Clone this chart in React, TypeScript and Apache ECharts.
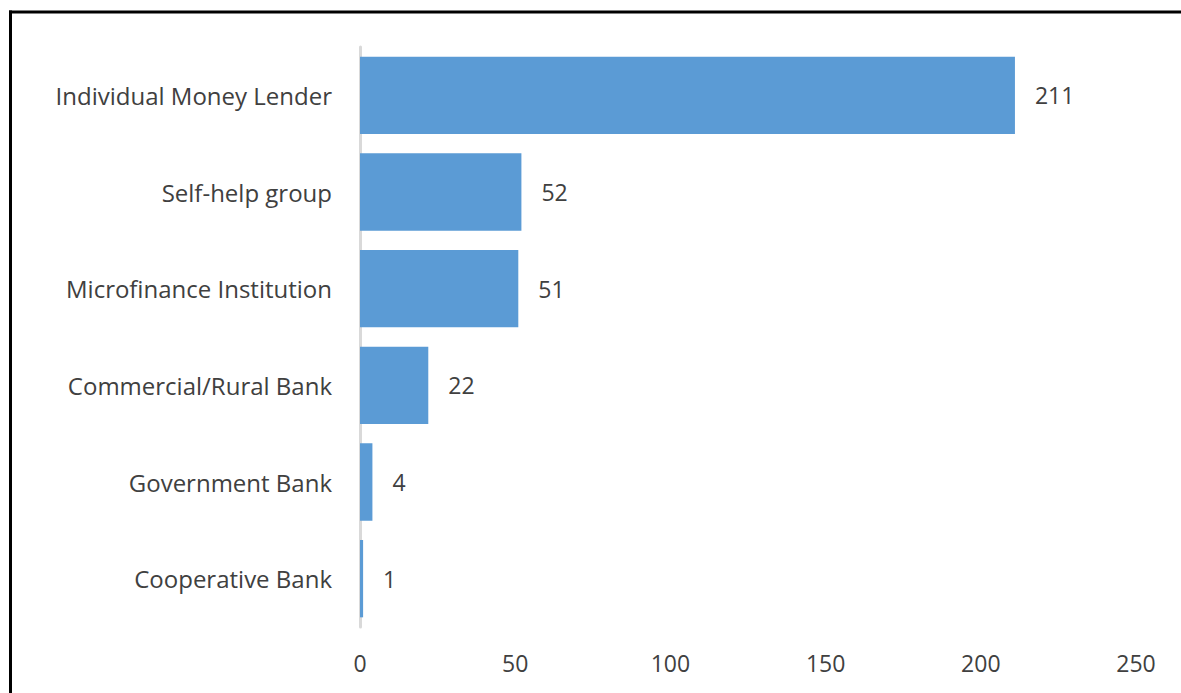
import React, { useEffect, useRef } from "react";
import * as echarts from "echarts";

const categories = [
  "Individual Money Lender",
  "Self-help group",
  "Microfinance Institution",
  "Commercial/Rural Bank",
  "Government Bank",
  "Cooperative Bank",
];
const values = [211, 52, 51, 22, 4, 1];
const xTicks = [0, 50, 100, 150, 200, 250];

export default function App() {
  const ref = useRef<HTMLDivElement>(null);
  useEffect(() => {
    if (!ref.current) return;
    const chart = echarts.init(ref.current, null, { renderer: "svg" });
    const font = "'Open Sans', 'Noto Sans', sans-serif";
    chart.setOption({
      animation: false,
      backgroundColor: "#ffffff",
      textStyle: { fontFamily: font },
      grid: { left: 360, right: 45, top: 47, bottom: 66, containLabel: false },
      xAxis: {
        type: "value",
        min: xTicks[0],
        max: xTicks[xTicks.length - 1],
        interval: 50,
        axisLine: { show: false },
        axisTick: { show: false },
        splitLine: { show: false },
        axisLabel: { color: "#404040", fontSize: 23, margin: 24, fontFamily: font },
      },
      yAxis: {
        type: "category",
        data: categories,
        inverse: true,
        axisLine: { show: true, lineStyle: { color: "#d9d9d9", width: 3 } },
        axisTick: { show: false },
        axisLabel: { color: "#404040", fontSize: 24, margin: 28, fontFamily: font },
      },
      series: [
        {
          type: "bar",
          data: values,
          barCategoryGap: "20%",
          itemStyle: { color: "#5b9bd5" },
          label: {
            show: true,
            position: "right",
            distance: 20,
            color: "#404040",
            fontSize: 23,
            fontFamily: font,
          },
        },
      ],
      graphic: [
        {
          type: "line",
          shape: { x1: 10.5, y1: 10.5, x2: 10.5, y2: 693 },
          style: { stroke: "#000000", lineWidth: 3 },
        },
        {
          type: "line",
          shape: { x1: 9, y1: 12, x2: 1181, y2: 12 },
          style: { stroke: "#000000", lineWidth: 3 },
        },
      ],
    });
    return () => chart.dispose();
  }, []);
  return (
    <div
      ref={ref}
      style={{ position: "absolute", left: 0, top: 0, width: 1181, height: 693 }}
    />
  );
}
